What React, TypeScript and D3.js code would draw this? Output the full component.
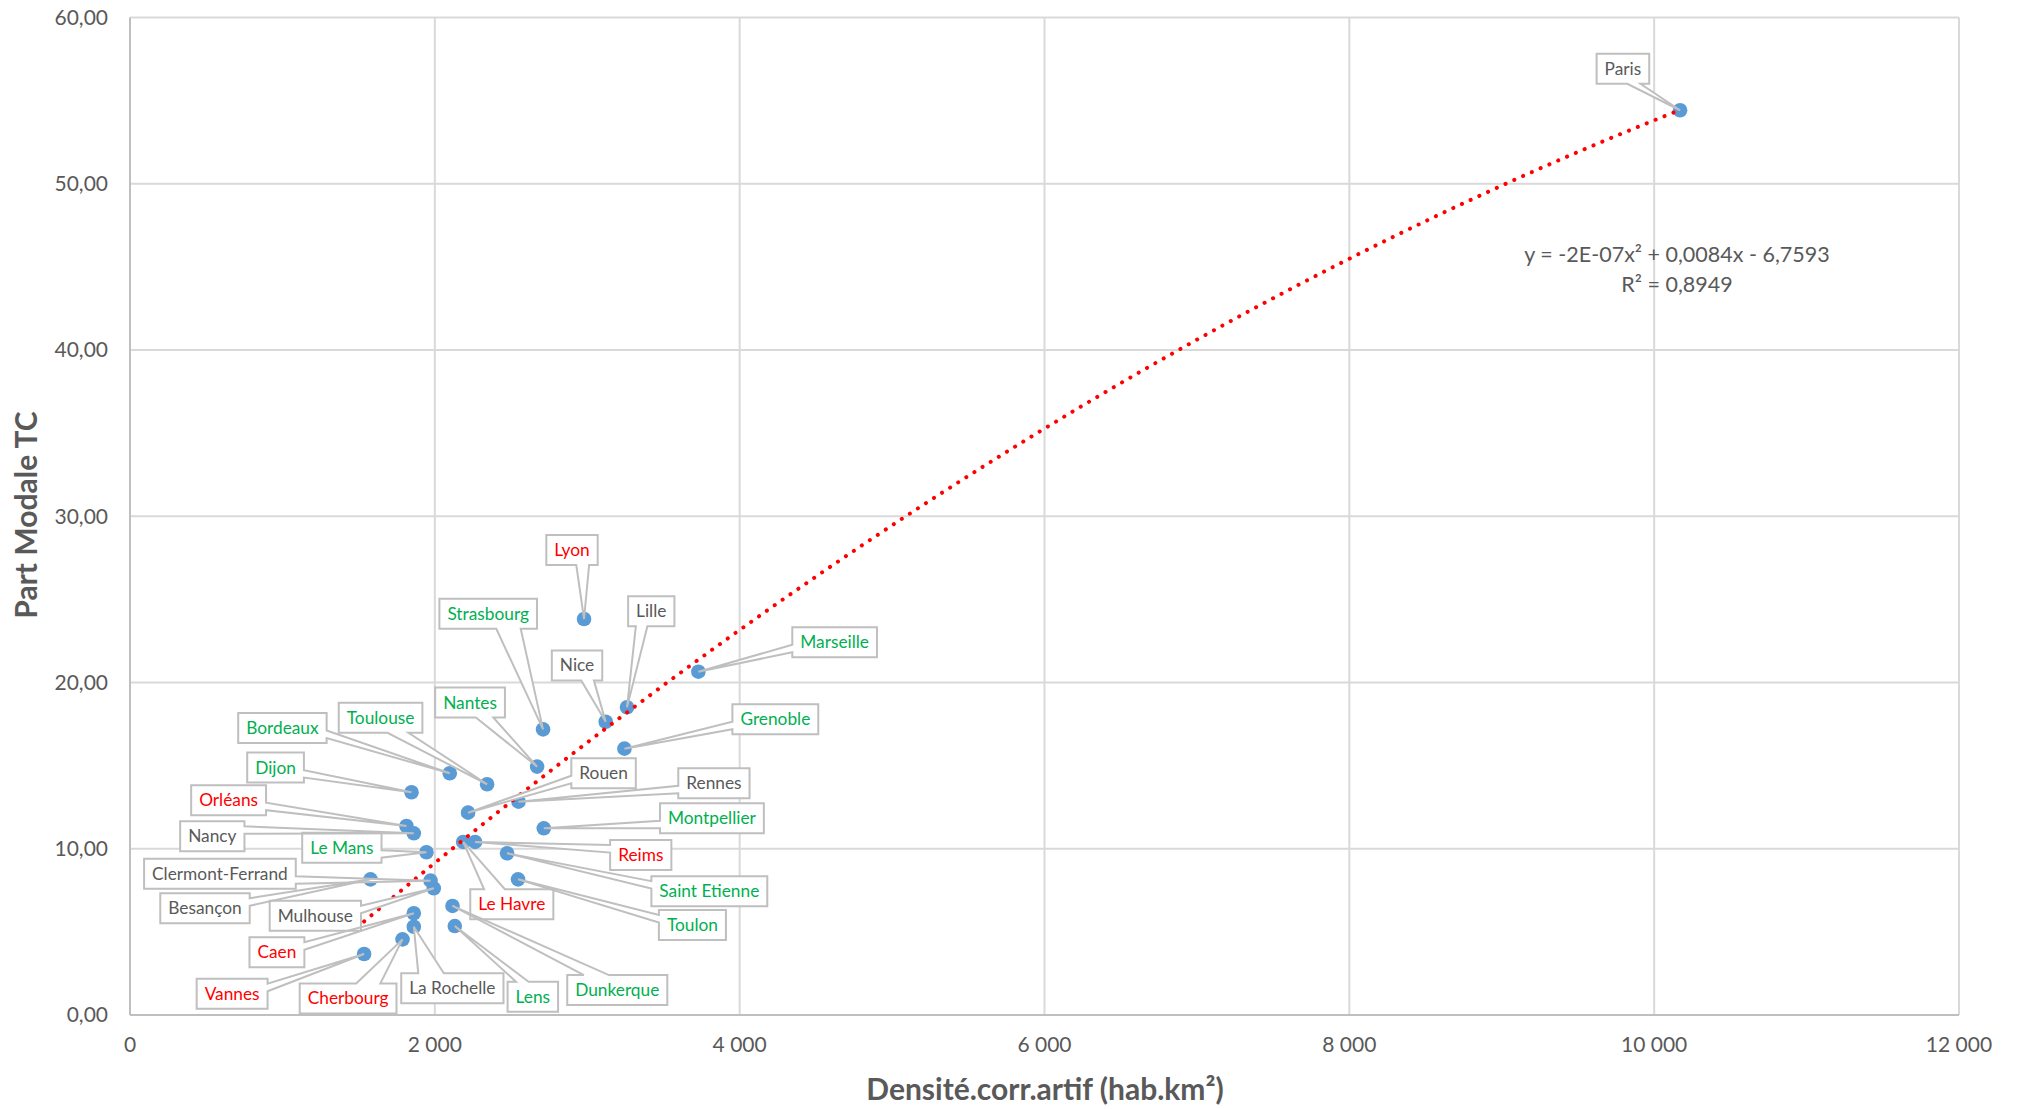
import React, { useEffect } from "react";
import * as d3 from "d3";

// ---------- data ----------
const cities = [
  "Paris", "Lyon", "Strasbourg", "Lille", "Nice", "Marseille", "Grenoble", "Nantes",
  "Toulouse", "Bordeaux", "Dijon", "Rouen", "Rennes", "Orléans", "Montpellier", "Nancy",
  "Le Mans", "Le Havre", "Reims", "Saint Etienne", "Toulon", "Besançon", "Clermont-Ferrand",
  "Mulhouse", "Caen", "La Rochelle", "Cherbourg", "Vannes", "Dunkerque", "Lens",
];
const densite = [
  10170, 2979, 2710, 3261, 3121, 3729, 3244, 2671,
  2343, 2098, 1847, 2218, 2549, 1814, 2715, 1862,
  1945, 2186, 2264, 2474, 2546, 1578, 1972,
  1993, 1862, 1862, 1788, 1536, 2116, 2131,
];
const partModale = [
  54.42, 23.82, 17.18, 18.51, 17.64, 20.65, 16.02, 14.94,
  13.88, 14.54, 13.4, 12.17, 12.83, 11.37, 11.23, 10.93,
  9.79, 10.41, 10.41, 9.73, 8.16, 8.16, 8.08,
  7.62, 6.12, 5.31, 4.55, 3.67, 6.56, 5.35,
];
// classification of each city (A / B / C)
const groupe = [
  "C", "B", "A", "C", "C", "A", "A", "A",
  "A", "A", "A", "C", "C", "B", "A", "C",
  "A", "B", "B", "A", "A", "C", "C",
  "C", "B", "C", "B", "B", "A", "A",
];

const xTicks = [0, 2000, 4000, 6000, 8000, 10000, 12000];
const yTicks = [0, 10, 20, 30, 40, 50, 60];
const xTitle = "Densité.corr.artif (hab.km²)";
const yTitle = "Part Modale TC";
const eqLine1 = "y = -2E-07x² + 0,0084x - 6,7593";
const eqLine2 = "R² = 0,8949";

// ---------- layout (label centres, in data units) ----------
const labelX = [
  9795, 2900, 2350, 3420, 2933, 4623, 4234, 2231,
  1644, 1000, 955, 3107, 3831, 647, 3818, 540,
  1390, 2505, 3351, 3801, 3690, 492, 590,
  1216, 964, 2115, 1431, 670, 3197, 2643,
];
const labelY = [
  56.91, 27.97, 24.13, 24.28, 21.03, 22.42, 17.79, 18.8,
  17.88, 17.26, 14.88, 14.54, 13.94, 12.92, 11.83, 10.75,
  10.06, 6.66, 9.62, 7.45, 5.41, 6.42, 8.5,
  5.97, 3.77, 1.61, 1.0, 1.28, 1.5, 1.1,
];

// ---------- styles ----------
const W = 2017;
const H = 1109;
const plot = { left: 130, right: 1959, top: 17.5, bottom: 1015 };
const groupColor: Record<string, string> = { A: "#00B050", B: "#FF0000", C: "#595959" };
const FONT = "Lato, 'Open Sans', sans-serif";
const LABEL_FS = 17.3;
const BOX_H = 30;
const BOX_PAD = 8;

const fr = d3.formatLocale({ decimal: ",", thousands: " ", grouping: [3], currency: ["", ""] });
const fmtX = fr.format(",.0f");
const fmtY = fr.format(".2f");

let ctx: CanvasRenderingContext2D | null = null;
function textWidth(s: string, font: string): number {
  if (!ctx && typeof document !== "undefined") ctx = document.createElement("canvas").getContext("2d");
  if (!ctx) return s.length * 8;
  ctx.font = font;
  return ctx.measureText(s).width;
}

function polyfit2(xs: number[], ys: number[]) {
  // least squares quadratic, x in thousands for stability
  const X = xs.map((v) => v / 1000);
  let n = X.length, s1 = 0, s2 = 0, s3 = 0, s4 = 0, t0 = 0, t1 = 0, t2 = 0;
  for (let i = 0; i < n; i++) {
    const x = X[i], y = ys[i];
    s1 += x; s2 += x * x; s3 += x * x * x; s4 += x * x * x * x;
    t0 += y; t1 += x * y; t2 += x * x * y;
  }
  const M = [
    [n, s1, s2],
    [s1, s2, s3],
    [s2, s3, s4],
  ];
  const R = [t0, t1, t2];
  const det = (m: number[][]) =>
    m[0][0] * (m[1][1] * m[2][2] - m[1][2] * m[2][1]) -
    m[0][1] * (m[1][0] * m[2][2] - m[1][2] * m[2][0]) +
    m[0][2] * (m[1][0] * m[2][1] - m[1][1] * m[2][0]);
  const D = det(M);
  const col = (k: number) => M.map((row, i) => row.map((v, j) => (j === k ? R[i] : v)));
  const c = det(col(0)) / D, b = det(col(1)) / D, a = det(col(2)) / D;
  return (xv: number) => {
    const x = xv / 1000;
    return a * x * x + b * x + c;
  };
}

function calloutPath(bx: number, by: number, w: number, h: number, tx: number, ty: number) {
  const l = bx, r = bx + w, t = by, b = by + h;
  const cx = bx + w / 2, cy = by + h / 2;
  const dx = tx - cx, dy = ty - cy;
  if (tx >= l && tx <= r && ty >= t && ty <= b) {
    return `M${l},${t}H${r}V${b}H${l}Z`;
  }
  const dq = (dx * h) / w;
  const x1 = bx + (w * (dx > 0 ? 7 : 2)) / 12;
  const x2 = bx + (w * (dx > 0 ? 10 : 5)) / 12;
  const y1 = by + (h * (dy > 0 ? 7 : 2)) / 12;
  const y2 = by + (h * (dy > 0 ? 10 : 5)) / 12;
  if (Math.abs(dy) > Math.abs(dq)) {
    if (dy < 0) return `M${l},${t}L${x1},${t}L${tx},${ty}L${x2},${t}L${r},${t}L${r},${b}L${l},${b}Z`;
    return `M${l},${t}L${r},${t}L${r},${b}L${x2},${b}L${tx},${ty}L${x1},${b}L${l},${b}Z`;
  }
  if (dx < 0) return `M${l},${t}L${r},${t}L${r},${b}L${l},${b}L${l},${y2}L${tx},${ty}L${l},${y1}Z`;
  return `M${l},${t}L${r},${t}L${r},${y1}L${tx},${ty}L${r},${y2}L${r},${b}L${l},${b}Z`;
}

export default function App() {
  useEffect(() => {
    document.body.style.margin = "0";
    document.body.style.overflow = "hidden";
  }, []);

  const x = d3.scaleLinear().domain([0, 12000]).range([plot.left, plot.right]);
  const y = d3.scaleLinear().domain([0, 60]).range([plot.bottom, plot.top]);

  const fit = polyfit2(densite, partModale);
  const xmin = d3.min(densite) as number;
  const xmax = d3.max(densite) as number;
  const samples = d3.range(0, 301).map((i) => xmin + ((xmax - xmin) * i) / 300);
  const trendPath = d3
    .line<number>()
    .x((d) => x(d))
    .y((d) => y(fit(d)))(samples) as string;

  const labelFont = `${LABEL_FS}px ${FONT}`;
  const labels = cities.map((name, i) => {
    const tw = textWidth(name, `${LABEL_FS}px Lato`);
    const w = tw + BOX_PAD * 2;
    const cx = x(labelX[i]);
    const cy = y(labelY[i]);
    const bx = cx - w / 2;
    const by = cy - BOX_H / 2;
    const px = x(densite[i]);
    const py = y(partModale[i]);
    return { name, cx, cy, d: calloutPath(bx, by, w, BOX_H, px, py), color: groupColor[groupe[i]] };
  });

  return (
    <svg
      width={W}
      height={H}
      style={{ position: "absolute", left: 0, top: 0, display: "block", background: "#fff" }}
      fontFamily={FONT}
    >
      <rect x={0} y={0} width={W} height={H} fill="#fff" />
      {/* grid */}
      {yTicks.map((t) => (
        <line key={"gy" + t} x1={plot.left} x2={plot.right} y1={y(t)} y2={y(t)} stroke="#D9D9D9" strokeWidth={2} />
      ))}
      {xTicks.map((t) => (
        <line key={"gx" + t} x1={x(t)} x2={x(t)} y1={plot.top} y2={plot.bottom} stroke="#D9D9D9" strokeWidth={2} />
      ))}
      {/* axes */}
      <line x1={plot.left} x2={plot.left} y1={plot.top} y2={plot.bottom} stroke="#BFBFBF" strokeWidth={2} />
      <line x1={plot.left} x2={plot.right} y1={plot.bottom} y2={plot.bottom} stroke="#BFBFBF" strokeWidth={2} />
      {/* tick labels */}
      {yTicks.map((t) => (
        <text key={"ty" + t} x={108} y={y(t)} dy="0.35em" textAnchor="end" fontSize={21} fill="#595959">
          {fmtY(t)}
        </text>
      ))}
      {xTicks.map((t) => (
        <text key={"tx" + t} x={x(t)} y={1045} dy="0.35em" textAnchor="middle" fontSize={21} fill="#595959">
          {fmtX(t)}
        </text>
      ))}
      {/* axis titles */}
      <text x={1045} y={1089} dy="0.35em" textAnchor="middle" fontSize={30} fontWeight="bold" fill="#595959">
        {xTitle}
      </text>
      <text
        transform={`translate(26,515) rotate(-90)`}
        dy="0.35em"
        textAnchor="middle"
        fontSize={30}
        fontWeight="bold"
        fill="#595959"
      >
        {yTitle}
      </text>
      {/* markers */}
      {cities.map((c, i) => (
        <circle key={"m" + c} cx={x(densite[i])} cy={y(partModale[i])} r={7.3} fill="#5B9BD5" />
      ))}
      {/* trendline */}
      <path
        d={trendPath}
        fill="none"
        stroke="#FF0000"
        strokeWidth={4}
        strokeLinecap="round"
        strokeDasharray="0.1 9.5"
      />
      {/* equation */}
      <text x={1677} y={262} textAnchor="middle" fontSize={21.5} fill="#595959">
        {eqLine1}
      </text>
      <text x={1677} y={292} textAnchor="middle" fontSize={21.5} fill="#595959">
        {eqLine2}
      </text>
      {/* callouts */}
      {labels.map((l) => (
        <path key={"f" + l.name} d={l.d} fill="#fff" stroke="none" />
      ))}
      {labels.map((l) => (
        <path key={"s" + l.name} d={l.d} fill="none" stroke="#BFBFBF" strokeWidth={2} strokeLinejoin="miter" />
      ))}
      {labels.map((l) => (
        <text
          key={"t" + l.name}
          x={l.cx}
          y={l.cy}
          dy="0.35em"
          textAnchor="middle"
          fontSize={LABEL_FS}
          fill={l.color}
          style={{ font: labelFont }}
        >
          {l.name}
        </text>
      ))}
    </svg>
  );
}
